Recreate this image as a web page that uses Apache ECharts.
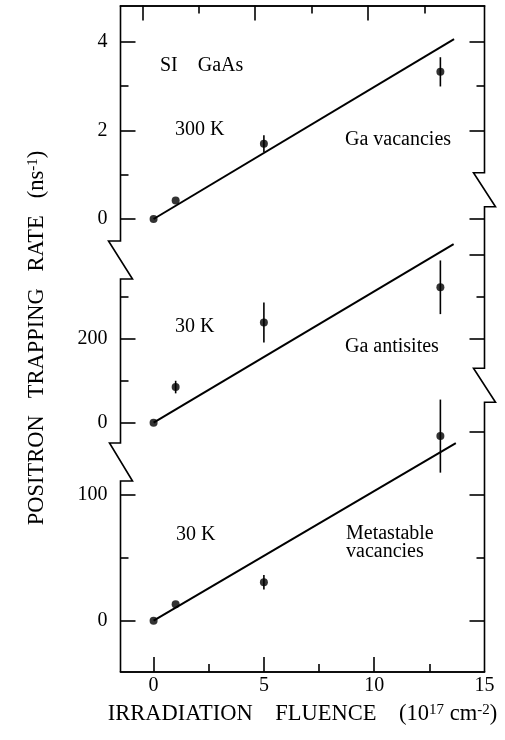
<!DOCTYPE html>
<html>
<head>
<meta charset="utf-8">
<title>Positron trapping rate vs irradiation fluence</title>
<script src="https://cdn.jsdelivr.net/npm/echarts@6/dist/echarts.min.js"></script>
<style>
  html, body { margin: 0; padding: 0; background: #fff; }
  #chart { width: 505px; height: 740px; }
</style>
</head>
<body>
<div id="chart"></div>
<script>
// ---- data -------------------------------------------------------------
const fluence = [0, 1, 5, 13];               // 10^17 cm^-2

// 300 K, Ga vacancies (ns^-1)
const gaVacRate = [0, 0.42, 1.70, 3.32];
const gaVacErr  = [0, 0, 0.19, 0.33];
const gaVacFit  = [[0, 0], [13.62, 4.06]];

// 30 K, Ga antisites
const gaAntiRate = [0, 85, 239, 323];
const gaAntiErr  = [0, 15, 48, 64];
const gaAntiFit  = [[0, 0], [13.6, 426]];

// 30 K, metastable vacancies
const metaRate = [0, 13, 30.5, 146.5];
const metaErr  = [0, 0, 5.7, 29];
const metaFit  = [[0, 0], [13.7, 141]];

// ---- tick values --------------------------------------------------------
const xLabels       = [0, 5, 10, 15];
const xMajorBottom  = [0, 5, 10];
const xMinorBottom  = [2.5, 7.5, 12.5];
const xMajorTop     = [-0.5, 4.6, 9.7];
const xMinorTop     = [2.05, 7.15, 12.3];

const topLabels = [0, 2, 4];
const topLeftMajor = [0, 2, 4],  topLeftMinor = [1, 3];
const topRightMajor = [0, 2, 4], topRightMinor = [3];

const midLabels = [0, 200];
const midLeftMajor = [0, 200],   midLeftMinor = [100, 300];
const midRightMajor = [200, 400], midRightMinor = [300];

const botLabels = [0, 100];
const botLeftMajor = [0, 100],   botLeftMinor = [50];
const botRightMajor = [0, 100, 150], botRightMinor = [50];

// ---- layout -----------------------------------------------------------
const FONT = '"Liberation Serif", "Times New Roman", serif';
const L = 120.5, R = 484.5, T = 5.5, B = 672;
const X_MIN = -1.5, X_MAX = 15;
const MAJOR_LEN = 15, MINOR_LEN = 8;

// each panel: value range and its pixel span
const panels = [
  { min: 0, max: 4,   top: 41.7,  bottom: 219,
    rate: gaVacRate, err: gaVacErr, fit: gaVacFit, labels: topLabels,
    lMaj: topLeftMajor, lMin: topLeftMinor, rMaj: topRightMajor, rMin: topRightMinor },
  { min: 0, max: 400, top: 255,   bottom: 422.7,
    rate: gaAntiRate, err: gaAntiErr, fit: gaAntiFit, labels: midLabels,
    lMaj: midLeftMajor, lMin: midLeftMinor, rMaj: midRightMajor, rMin: midRightMinor },
  { min: 0, max: 150, top: 431.7, bottom: 620.7,
    rate: metaRate, err: metaErr, fit: metaFit, labels: botLabels,
    lMaj: botLeftMajor, lMin: botLeftMinor, rMaj: botRightMajor, rMin: botRightMinor }
];

const grids = [{ left: L, top: T, width: R - L, height: B - T }];
const xAxes = [];
const yAxes = [];
const series = [];

function xAxisFrame(pos, ticks, len, labels) {
  return {
    type: 'value', gridIndex: 0, position: pos, min: X_MIN, max: X_MAX,
    axisLine: { show: true, onZero: false, lineStyle: { color: '#000', width: 1.6 } },
    axisTick: { show: true, inside: true, length: len, customValues: ticks,
                lineStyle: { color: '#000', width: 1.6 } },
    axisLabel: labels ? { show: true, customValues: labels, margin: 4,
                          fontFamily: FONT, fontSize: 20, color: '#000' }
                      : { show: false },
    splitLine: { show: false }
  };
}
xAxes.push(xAxisFrame('bottom', xMajorBottom, MAJOR_LEN, xLabels));
xAxes.push(xAxisFrame('bottom', xMinorBottom, MINOR_LEN, null));
xAxes.push(xAxisFrame('top', xMajorTop, MAJOR_LEN, null));
xAxes.push(xAxisFrame('top', xMinorTop, MINOR_LEN, null));
yAxes.push({ type: 'value', gridIndex: 0, show: false, min: 0, max: 1,
             axisLine: { onZero: false } });

function yAxisPanel(gi, p, pos, ticks, len, labels) {
  return {
    type: 'value', gridIndex: gi, position: pos, min: p.min, max: p.max,
    axisLine: { show: false, onZero: false },
    axisTick: { show: true, inside: true, length: len, customValues: ticks,
                lineStyle: { color: '#000', width: 1.6 } },
    axisLabel: labels ? { show: true, customValues: labels, margin: 13,
                          fontFamily: FONT, fontSize: 20, color: '#000' }
                      : { show: false },
    splitLine: { show: false }
  };
}

panels.forEach((p, i) => {
  const gi = i + 1;
  grids.push({ left: L, width: R - L, top: p.top, height: p.bottom - p.top });
  const xi = xAxes.length;
  xAxes.push({ type: 'value', gridIndex: gi, show: false, min: X_MIN, max: X_MAX,
               axisLine: { onZero: false } });
  const yi = yAxes.length;
  yAxes.push(yAxisPanel(gi, p, 'left', p.lMaj, MAJOR_LEN, p.labels));
  yAxes.push(yAxisPanel(gi, p, 'left', p.lMin, MINOR_LEN, null));
  yAxes.push(yAxisPanel(gi, p, 'right', p.rMaj, MAJOR_LEN, null));
  yAxes.push(yAxisPanel(gi, p, 'right', p.rMin, MINOR_LEN, null));

  // straight-line fit through the points
  series.push({
    type: 'line', xAxisIndex: xi, yAxisIndex: yi, data: p.fit,
    symbol: 'none', clip: false, silent: true,
    lineStyle: { color: '#000', width: 2 }, z: 2
  });
  // vertical error bars
  series.push({
    type: 'custom', xAxisIndex: xi, yAxisIndex: yi, clip: false, silent: true,
    data: fluence.map((x, k) => [x, p.rate[k], p.err[k]]),
    renderItem: function (params, api) {
      const e = api.value(2);
      if (!e) return null;
      const x = api.value(0), y = api.value(1);
      const a = api.coord([x, y - e]);
      const b = api.coord([x, y + e]);
      return { type: 'line', shape: { x1: a[0], y1: a[1], x2: b[0], y2: b[1] },
               style: { stroke: '#000', lineWidth: 1.6 } };
    },
    z: 3
  });
  // measured points
  series.push({
    type: 'scatter', xAxisIndex: xi, yAxisIndex: yi, clip: false, silent: true,
    data: fluence.map((x, k) => [x, p.rate[k]]),
    symbol: 'circle', symbolSize: 8,
    itemStyle: { color: '#000' }, z: 4
  });
});

// left and right frame edges with zigzag axis breaks
function edge(x, breaks) {
  const pts = [[x, T]];
  breaks.forEach(b => {
    pts.push([x, b[0]], [x - b[2], b[0]], [x + b[3], b[1]], [x, b[1]]);
  });
  pts.push([x, B]);
  return pts;
}
const leftBreaks  = [[241, 279, 12, 12], [443, 481, 11, 12]];
const rightBreaks = [[172.7, 206.7, 11, 11], [368.3, 402.3, 11, 11]];

const textStyle = (txt, x, y, size, align) => ({
  type: 'text', x: x, y: y, silent: true,
  style: { text: txt, fontFamily: FONT, fontSize: size, fill: '#000',
           align: align || 'left', verticalAlign: 'middle',
           textAlign: align || 'left', textVerticalAlign: 'middle' }
});

const richTitle = {
  a: { fontFamily: FONT, fontSize: 22.5, fill: '#000' },
  s: { fontFamily: FONT, fontSize: 15, fill: '#000', verticalAlign: 'top' }
};

const graphics = [
  { type: 'polyline', silent: true, shape: { points: edge(L, leftBreaks) },
    style: { stroke: '#000', lineWidth: 1.6, fill: null } },
  { type: 'polyline', silent: true, shape: { points: edge(R, rightBreaks) },
    style: { stroke: '#000', lineWidth: 1.6, fill: null } },
  textStyle('SI    GaAs', 160, 66, 20),
  textStyle('300 K', 175, 130, 20),
  textStyle('Ga vacancies', 345, 140, 20),
  textStyle('30 K', 175, 327, 20),
  textStyle('Ga antisites', 345, 347, 20),
  textStyle('30 K', 176, 535, 20),
  textStyle('Metastable', 346, 534, 20),
  textStyle('vacancies', 346, 552, 20),
  {
    type: 'text', x: 302.5, y: 714, silent: true,
    style: {
      text: '{a|IRRADIATION    FLUENCE    (10}{s|17}{a| cm}{s|-2}{a|)}',
      align: 'center', verticalAlign: 'middle',
      textAlign: 'center', textVerticalAlign: 'middle',
      rich: richTitle
    }
  },
  {
    type: 'text', x: 37, y: 338, rotation: Math.PI / 2, silent: true,
    style: {
      text: '{a|POSITRON   TRAPPING   RATE   (ns}{s|-1}{a|)}',
      align: 'center', verticalAlign: 'middle',
      textAlign: 'center', textVerticalAlign: 'middle',
      rich: richTitle
    }
  }
];

const chart = echarts.init(document.getElementById('chart'), null, { renderer: 'canvas' });
chart.setOption({
  animation: false,
  backgroundColor: '#fff',
  grid: grids,
  xAxis: xAxes,
  yAxis: yAxes,
  series: series,
  graphic: graphics
});
</script>
</body>
</html>
